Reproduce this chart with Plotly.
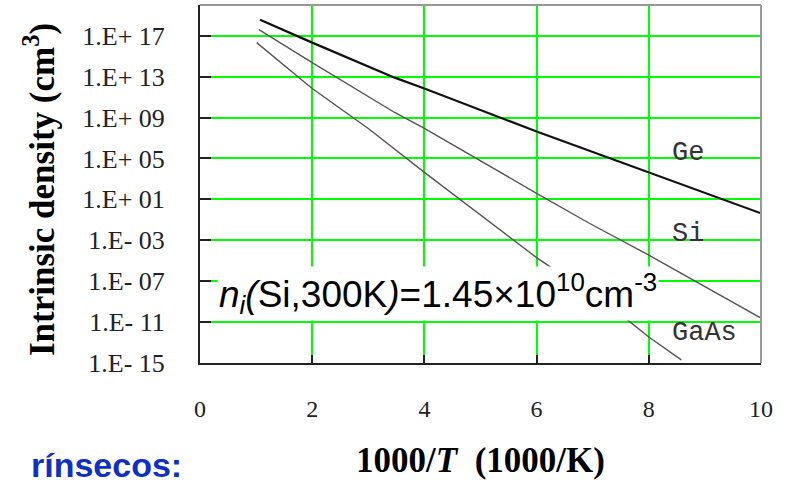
import plotly.graph_objects as go

# ---- data (x = 1000/T in 1000/K, y = intrinsic density in cm^-3) ----
ge_x = [1.07, 2.0, 3.47, 4.0, 6.0, 6.94, 8.0, 10.0]
ge_n = [3.6e18, 2.1e16, 7.9e12, 6.8e11, 4.3e7, 5.6e5, 4.3e3, 0.43]

si_x = [1.05, 2.0, 3.47, 4.0, 6.0, 6.94, 8.0, 10.0]
si_n = [3.9e17, 2.3e14, 3.1e9, 8.5e7, 39.0, 4.6e-2, 3.5e-5, 2.5e-11]

gaas_x = [1.01, 2.0, 3.0, 4.0, 6.0, 7.47, 8.0, 8.58]
gaas_n = [2.1e16, 6.8e11, 8.5e7, 4.3e3, 2.0e-5, 7.6e-11, 3.5e-13, 2.0e-15]

y_tick_vals = [1e17, 1e13, 1e9, 1e5, 1e1, 1e-3, 1e-7, 1e-11, 1e-15]
y_tick_text = ["1.E+ 17", "1.E+ 13", "1.E+ 09", "1.E+ 05", "1.E+ 01",
               "1.E- 03", "1.E- 07", "1.E- 11", "1.E- 15"]
x_tick_vals = [0, 2, 4, 6, 8, 10]
x_tick_text = ["0", "2", "4", "6", "8", "10"]

labels = ["Ge", "Si", "GaAs"]
label_x = [8.38, 8.38, 8.38]
label_y = [5.49, -2.41, -12.07]  # log10 positions

fig = go.Figure()
fig.add_trace(go.Scatter(x=ge_x, y=ge_n, mode="lines", name="Ge",
                         line=dict(color="#111111", width=2.2), showlegend=False))
fig.add_trace(go.Scatter(x=si_x, y=si_n, mode="lines", name="Si",
                         line=dict(color="#555555", width=1.4), showlegend=False))
fig.add_trace(go.Scatter(x=gaas_x, y=gaas_n, mode="lines", name="GaAs",
                         line=dict(color="#555555", width=1.4), showlegend=False))

serif = "Liberation Serif, Times New Roman, serif"

fig.update_layout(
    width=785, height=489,
    margin=dict(l=200, r=24, t=5, b=126),
    paper_bgcolor="white", plot_bgcolor="white",
    xaxis=dict(range=[0, 10], tickvals=x_tick_vals, ticktext=x_tick_text,
               ticks="inside", ticklen=8, tickwidth=2, tickcolor="#222",
               showline=True, linecolor="#222", linewidth=2,
               showgrid=True, gridcolor="#00ff00", gridwidth=2, zeroline=False,
               tickfont=dict(family=serif, size=24, color="#222"),
               ticklabelstandoff=23),
    yaxis=dict(type="log", range=[-15, 20], tickvals=y_tick_vals, ticktext=y_tick_text,
               ticks="inside", ticklen=11, tickwidth=2, tickcolor="#222",
               showline=True, linecolor="#222", linewidth=2,
               showgrid=True, gridcolor="#00ff00", gridwidth=2, zeroline=False,
               tickfont=dict(family=serif, size=26, color="#222"),
               ticklabelstandoff=28),
    shapes=[
        dict(type="line", xref="paper", yref="paper", x0=0, x1=1, y0=1, y1=1,
             line=dict(color="#999999", width=2)),
        dict(type="line", xref="paper", yref="paper", x0=1, x1=1, y0=0, y1=1,
             line=dict(color="#999999", width=2)),
    ],
)

for t, lx, ly in zip(labels, label_x, label_y):
    fig.add_annotation(x=lx, y=ly, xref="x", yref="y", text=t, showarrow=False,
                       xanchor="left", yanchor="middle",
                       font=dict(family="Liberation Mono, Courier New, monospace", size=27, color="#333"))

fig.add_annotation(x=0.30, y=-8.2, xref="x", yref="y",
                   text="<i>n<sub>i</sub>(</i>Si,300K<i>)</i>=1.45×10<sup>10</sup>cm<sup>-3</sup>",
                   showarrow=False, xanchor="left", yanchor="middle",
                   bgcolor="white", borderpad=1,
                   font=dict(family="Liberation Sans, Arial, sans-serif", size=37, color="black"))

fig.add_annotation(x=(40 - 200) / 561, y=(363 - 190) / 358, xref="paper", yref="paper",
                   text="<b>Intrinsic density (cm<sup>3</sup>)</b>", textangle=-90,
                   showarrow=False, xanchor="center", yanchor="middle",
                   font=dict(family=serif, size=35, color="black"))

fig.add_annotation(x=(480 - 200) / 561, y=(363 - 460) / 358, xref="paper", yref="paper",
                   text="<b>1000/<i>T</i>  (1000/K)</b>",
                   showarrow=False, xanchor="center", yanchor="middle",
                   font=dict(family=serif, size=35, color="black"))

fig.add_annotation(x=(184 - 200) / 561, y=(363 - 465) / 358, xref="paper", yref="paper",
                   text="<b>rínsecos:</b>",
                   showarrow=False, xanchor="right", yanchor="middle",
                   font=dict(family="Liberation Sans, Arial, sans-serif", size=34, color="#1030C0"))

fig.write_html("out.html", config={"displayModeBar": False},
               post_script="document.body.style.margin='0';document.body.style.padding='0';")
